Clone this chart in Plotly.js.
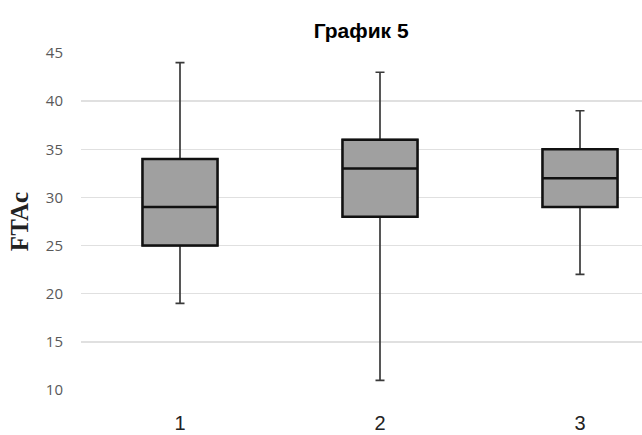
<!DOCTYPE html>
<html>
<head>
<meta charset="utf-8">
<script src="https://cdn.plot.ly/plotly-3.0.1.min.js"></script>
<style>html,body{margin:0;padding:0;background:#fff;}#chart{width:642px;height:435px;}</style>
</head>
<body>
<div id="chart"></div>
<script>
const categories = [1, 2, 3];
const tickLabels = ["1", "2", "3"];
const minVals = [19, 11, 22];
const q1Vals = [25, 28, 29];
const medianVals = [29, 33, 32];
const q3Vals = [34, 36, 35];
const maxVals = [44, 43, 39];
const yTicks = [10, 15, 20, 25, 30, 35, 40, 45];

const whiskers = {
  type: 'box',
  x: categories,
  q1: q1Vals,
  median: medianVals,
  q3: q3Vals,
  lowerfence: minVals,
  upperfence: maxVals,
  width: 0.375,
  whiskerwidth: 0.12,
  fillcolor: '#a0a0a0',
  line: {color: '#3a3a3a', width: 1.7},
  boxpoints: false,
  hoverinfo: 'skip',
  showlegend: false
};
const boxes = {
  type: 'box',
  x: categories,
  q1: q1Vals,
  median: medianVals,
  q3: q3Vals,
  lowerfence: q1Vals,
  upperfence: q3Vals,
  width: 0.375,
  whiskerwidth: 0,
  fillcolor: '#a0a0a0',
  line: {color: '#111111', width: 2.5},
  boxpoints: false,
  hoverinfo: 'skip',
  showlegend: false
};

const layout = {
  width: 642,
  height: 435,
  margin: {l: 81, r: 0, t: 53, b: 45, pad: 0},
  paper_bgcolor: '#ffffff',
  plot_bgcolor: '#ffffff',
  boxmode: 'overlay',
  title: {
    text: '<b>График 5</b>',
    font: {family: 'Liberation Sans, Arial, sans-serif', size: 21, color: '#000'},
    x: 0.5625, xanchor: 'center',
    y: 0.93, yanchor: 'middle'
  },
  xaxis: {
    range: [0.505, 3.31],
    tickvals: categories,
    ticktext: tickLabels,
    showgrid: false,
    zeroline: false,
    showline: false,
    ticks: '',
    ticklabelstandoff: 19,
    tickfont: {family: 'Liberation Sans, Arial, sans-serif', size: 20, color: '#222'}
  },
  yaxis: {
    range: [10, 45],
    tickvals: yTicks,
    ticktext: yTicks.map(String),
    showgrid: true,
    gridcolor: '#e0e0e0',
    gridwidth: 1.5,
    zeroline: false,
    showline: false,
    ticks: '',
    ticklabelstandoff: 17,
    tickfont: {family: 'Open Sans, sans-serif', size: 15, color: '#595959'},
    title: {
      text: '<b>FTAc</b>',
      font: {family: 'Liberation Serif, Times New Roman, serif', size: 25, color: '#222'},
      standoff: 10
    }
  }
};

Plotly.newPlot('chart', [whiskers, boxes], layout, {displayModeBar: false, staticPlot: true});
</script>
</body>
</html>
